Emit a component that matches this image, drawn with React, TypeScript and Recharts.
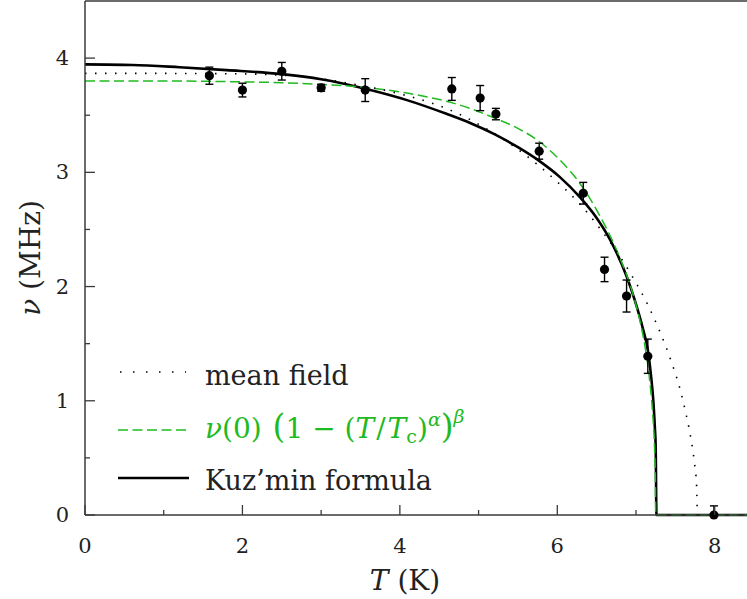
import { ComposedChart, Line, Scatter, ErrorBar, XAxis, YAxis, Legend } from 'recharts'

// measured points
const dataT = [1.58, 2.0, 2.5, 3.0, 3.56, 4.66, 5.02, 5.22, 5.77, 6.33, 6.6, 6.88, 7.15, 7.99]
const dataNu = [3.846, 3.72, 3.885, 3.74, 3.72, 3.73, 3.65, 3.51, 3.185, 2.817, 2.15, 1.917, 1.39, 0]
const dataErr: (number | number[])[] = [0.075, 0.06, 0.077, 0.03, 0.1, 0.1, 0.11, 0.05, 0.07, 0.095, 0.107, 0.14, 0.15, [0, 0.08]]

// Kuz'min formula (solid black)
const kuzT = [0, 0.6, 1.2, 1.8, 2.5, 3.0, 3.6, 4.1, 4.6, 4.9, 5.2, 5.5, 5.77, 6.03, 6.29, 6.5, 6.67, 6.88, 6.98, 7.09, 7.15, 7.19, 7.22, 7.24, 7.25, 7.26, 8.41]
const kuzNu = [3.945, 3.94, 3.92, 3.895, 3.86, 3.815, 3.725, 3.63, 3.51, 3.43, 3.335, 3.22, 3.1, 2.96, 2.78, 2.6, 2.41, 2.09, 1.89, 1.625, 1.445, 1.225, 1.0, 0.76, 0.6, 0, 0]

// power-law fit (green dashed)
const fitT = [0, 1.0, 2.0, 2.5, 3.0, 3.6, 4.2, 4.63, 4.89, 5.22, 5.5, 5.77, 6.03, 6.29, 6.54, 6.79, 6.95, 7.05, 7.12, 7.17, 7.21, 7.235, 7.245, 7.25, 8.41]
const fitNu = [3.8, 3.8, 3.792, 3.785, 3.77, 3.74, 3.68, 3.615, 3.56, 3.47, 3.385, 3.27, 3.11, 2.9, 2.62, 2.26, 1.96, 1.7, 1.45, 1.2, 0.9, 0.6, 0.35, 0, 0]

// mean field (dotted)
const mfT = [0, 1.0, 2.0, 2.5, 2.71, 3.09, 3.47, 3.66, 4.04, 4.41, 4.55, 5.08, 5.4, 5.71, 6.01, 6.29, 6.54, 6.79, 6.96, 7.15, 7.3, 7.45, 7.56, 7.64, 7.7, 7.74, 7.77, 7.78, 8.41]
const mfNu = [3.866, 3.866, 3.862, 3.85, 3.84, 3.81, 3.765, 3.74, 3.68, 3.605, 3.57, 3.39, 3.25, 3.09, 2.91, 2.72, 2.51, 2.27, 2.08, 1.84, 1.61, 1.34, 1.1, 0.87, 0.66, 0.47, 0.25, 0, 0]

const xTicks = [0, 1, 2, 3, 4, 5, 6, 7, 8]
const yTicks = [0, 0.5, 1, 1.5, 2, 2.5, 3, 3.5, 4]

const points = dataT.map((T, i) => ({ T, nu: dataNu[i], err: dataErr[i] }))
const kuz = kuzT.map((T, i) => ({ T, nu: kuzNu[i] }))
const fit = fitT.map((T, i) => ({ T, nu: fitNu[i] }))
const mf = mfT.map((T, i) => ({ T, nu: mfNu[i] }))

const AXIS = '#3a3a3a'
const TEXT = '#222'
const GREEN = '#1fba1f'
const FONT = 'DejaVu Serif, serif'

function XTick(props: any) {
  const { x, y, payload, top } = props
  const v = payload.value
  const major = v % 2 === 0
  const len = major ? 10 : 5
  return (
    <g>
      <line x1={x} x2={x} y1={y} y2={top ? y + len : y - len} stroke={AXIS} strokeWidth={1.3} />
      {!top && major && (
        <text x={x} y={y + 38} textAnchor="middle" fontSize={21} fontFamily={FONT} fill={TEXT}>{v}</text>
      )}
    </g>
  )
}

function YTick(props: any) {
  const { x, y, payload } = props
  const v = payload.value
  const major = Number.isInteger(v)
  const len = major ? 10 : 5
  return (
    <g>
      <line x1={x} x2={x + len} y1={y} y2={y} stroke={AXIS} strokeWidth={1.3} />
      {major && (
        <text x={x - 16} y={y + 7} textAnchor="end" fontSize={21} fontFamily={FONT} fill={TEXT}>{v}</text>
      )}
    </g>
  )
}

function LegendBox() {
  // origin of this svg sits at page (100, 340)
  return (
    <svg width={420} height={170} style={{ overflow: 'visible' }}>
      <line x1={20} x2={86} y1={32} y2={32} stroke="#000" strokeWidth={1.6} strokeDasharray="1.5 11.5" />
      <text x={105} y={45} fontSize={27} fontFamily={FONT} fill={TEXT}>mean field</text>

      <line x1={18} x2={88} y1={90} y2={90} stroke={GREEN} strokeWidth={1.5} strokeDasharray="10 4.5" />
      <text x={105} y={98} fontSize={28} fontFamily={FONT} fill={GREEN}>
        <tspan fontStyle="italic">ν</tspan>
        <tspan>(0) </tspan>
        <tspan fontSize={33} dx={2}>(</tspan>
        <tspan>1 − (</tspan>
        <tspan fontStyle="italic">T</tspan>
        <tspan dx={2}>/</tspan>
        <tspan fontStyle="italic" dx={2}>T</tspan>
        <tspan fontSize={19} dy={5}>c</tspan>
        <tspan dy={-5}>)</tspan>
        <tspan fontSize={19} dy={-12} fontStyle="italic">α</tspan>
        <tspan fontSize={33} dy={12}>)</tspan>
        <tspan fontSize={19} dy={-15} fontStyle="italic">β</tspan>
      </text>

      <line x1={18} x2={89} y1={138} y2={138} stroke="#000" strokeWidth={2.6} />
      <text x={105} y={150} fontSize={27} fontFamily={FONT} fill={TEXT}>Kuz’min formula</text>
    </svg>
  )
}

export default function App() {
  return (
    <div style={{ position: 'absolute', left: 0, top: 0, width: 747, height: 599, overflow: 'hidden', background: '#fff' }}>
      <ComposedChart width={747} height={599} margin={{ top: 0, right: 0, bottom: 83, left: 84 }}>
        <XAxis
          xAxisId="b" type="number" dataKey="T" domain={[0, 8.41]} ticks={xTicks} interval={0}
          height={1} tickSize={0} tickMargin={0} tickLine={false}
          axisLine={{ stroke: AXIS, strokeWidth: 1.5 }}
          tick={(p: any) => <XTick {...p} />}
          label={{
            content: () => (
              <text x={405} y={590} textAnchor="middle" fontSize={28} fontFamily={FONT} fill={TEXT}>
                <tspan fontStyle="italic">T</tspan> (K)
              </text>
            ),
          }}
        />
        <XAxis
          xAxisId="t" orientation="top" type="number" domain={[0, 8.41]} ticks={xTicks} interval={0}
          height={1} tickSize={0} tickMargin={0} tickLine={false}
          axisLine={{ stroke: AXIS, strokeWidth: 1.5 }}
          tick={(p: any) => <XTick {...p} top />}
        />
        <YAxis
          yAxisId="l" type="number" domain={[0, 4.5]} ticks={yTicks} interval={0}
          width={1} tickSize={0} tickMargin={0} tickLine={false}
          axisLine={{ stroke: AXIS, strokeWidth: 1.5 }}
          tick={(p: any) => <YTick {...p} />}
          label={{
            content: () => (
              <text x={40} y={258} textAnchor="middle" fontSize={28} fontFamily={FONT} fill={TEXT} transform="rotate(-90 40 258)">
                <tspan fontStyle="italic">ν</tspan> (MHz)
              </text>
            ),
          }}
        />
        <Line xAxisId="b" yAxisId="l" data={kuz} dataKey="nu" type="monotone" stroke="#000" strokeWidth={2.6} dot={false} isAnimationActive={false} />
        <Line xAxisId="b" yAxisId="l" data={fit} dataKey="nu" type="monotone" stroke={GREEN} strokeWidth={1.5} strokeDasharray="10 4.5" dot={false} isAnimationActive={false} />
        <Line xAxisId="b" yAxisId="l" data={mf} dataKey="nu" type="monotone" stroke="#000" strokeWidth={1.6} strokeDasharray="1.5 8.5" dot={false} isAnimationActive={false} />
        <Scatter
          xAxisId="b" yAxisId="l" data={points} dataKey="nu" fill="#000" isAnimationActive={false}
          shape={(p: any) => <circle cx={p.cx} cy={p.cy} r={4.6} fill="#000" />}
        >
          <ErrorBar dataKey="err" direction="y" width={4} stroke="#000" strokeWidth={1.4} />
        </Scatter>
        <Legend
          layout="horizontal" verticalAlign="middle" align="center"
          wrapperStyle={{ position: 'absolute', left: 100, top: 340, width: 420, height: 170 }}
          content={() => <LegendBox />}
        />
      </ComposedChart>
    </div>
  )
}
